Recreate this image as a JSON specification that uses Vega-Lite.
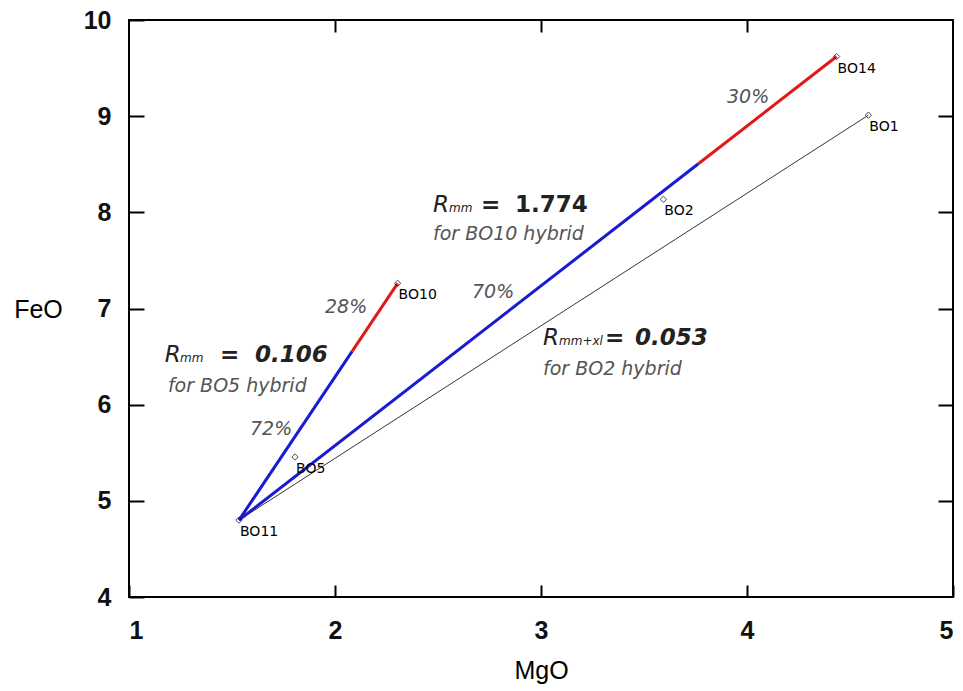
{
  "$schema": "https://vega.github.io/schema/vega-lite/v6.json",
  "width": 824,
  "height": 577,
  "autosize": "none",
  "padding": {"left": 129, "top": 20, "right": 10, "bottom": 94},
  "background": "white",
  "config": {
    "view": {"stroke": "black", "strokeWidth": 2},
    "axis": {"grid": false, "domain": false, "tickColor": "black", "tickWidth": 2,
      "labelFont": "Liberation Sans", "labelFontSize": 25, "labelFontWeight": "bold", "labelColor": "#111111",
      "titleFont": "Liberation Sans", "titleFontSize": 25, "titleFontWeight": "normal", "titleColor": "black"}
  },
  "resolve": {"axis": {"x": "independent", "y": "independent"}},
  "datasets": {
    "lines": [
      {"seg": "BO11-BO10a", "part": "mafic", "seq": 1, "MgO": 1.534, "FeO": 4.80},
      {"seg": "BO11-BO10a", "part": "mafic", "seq": 2, "MgO": 2.083, "FeO": 6.555},
      {"seg": "BO11-BO10b", "part": "felsic", "seq": 1, "MgO": 2.083, "FeO": 6.555},
      {"seg": "BO11-BO10b", "part": "felsic", "seq": 2, "MgO": 2.304, "FeO": 7.262},
      {"seg": "BO11-BO14a", "part": "mafic", "seq": 1, "MgO": 1.534, "FeO": 4.80},
      {"seg": "BO11-BO14a", "part": "mafic", "seq": 2, "MgO": 3.764, "FeO": 8.505},
      {"seg": "BO11-BO14b", "part": "felsic", "seq": 1, "MgO": 3.764, "FeO": 8.505},
      {"seg": "BO11-BO14b", "part": "felsic", "seq": 2, "MgO": 4.435, "FeO": 9.62}
    ],
    "tie": [
      {"MgO": 1.534, "FeO": 4.80},
      {"MgO": 4.589, "FeO": 9.01}
    ],
    "samples": [
      {"name": "BO11", "MgO": 1.534, "FeO": 4.80},
      {"name": "BO5", "MgO": 1.806, "FeO": 5.456},
      {"name": "BO10", "MgO": 2.304, "FeO": 7.262},
      {"name": "BO2", "MgO": 3.594, "FeO": 8.135},
      {"name": "BO14", "MgO": 4.435, "FeO": 9.62},
      {"name": "BO1", "MgO": 4.589, "FeO": 9.01}
    ]
  },
  "layer": [
    {
      "data": {"name": "tie"},
      "mark": {"type": "line", "color": "black", "strokeWidth": 0.8},
      "encoding": {
        "x": {"field": "MgO", "type": "quantitative", "scale": {"domain": [1, 5], "nice": false, "zero": false},
          "axis": {"values": [1, 2, 3, 4, 5], "format": "d", "offset": -12, "tickSize": 12, "labelPadding": 21, "title": "MgO", "titleY": 93, "titleBaseline": "alphabetic"}},
        "y": {"field": "FeO", "type": "quantitative", "scale": {"domain": [4, 10], "nice": false, "zero": false},
          "axis": {"values": [4, 5, 6, 7, 8, 9, 10], "format": "d", "offset": -15, "tickSize": 15, "labelPadding": 18, "title": "FeO", "titleAngle": 0, "titleX": -106, "titleY": 297, "titleAlign": "center", "titleBaseline": "alphabetic"}}
      }
    },
    {
      "data": {"name": "lines"},
      "mark": {"type": "line", "strokeWidth": 3},
      "encoding": {
        "x": {"field": "MgO", "type": "quantitative",
          "axis": {"orient": "top", "values": [2, 3, 4], "offset": -12, "tickSize": 12, "labels": false, "title": null}},
        "y": {"field": "FeO", "type": "quantitative",
          "axis": {"orient": "right", "values": [5, 6, 7, 8, 9], "offset": -15, "tickSize": 15, "labels": false, "title": null}},
        "detail": {"field": "seg"},
        "order": {"field": "seq"},
        "color": {"field": "part", "type": "nominal", "scale": {"domain": ["mafic", "felsic"], "range": ["#1a1ad2", "#e01818"]}, "legend": null}
      }
    },
    {
      "data": {"name": "samples"},
      "mark": {"type": "point", "shape": "diamond", "filled": false, "size": 40, "stroke": "black", "strokeWidth": 1},
      "encoding": {
        "x": {"field": "MgO", "type": "quantitative", "axis": null},
        "y": {"field": "FeO", "type": "quantitative", "axis": null}
      }
    },
    {
      "data": {"name": "samples"},
      "mark": {"type": "text", "align": "left", "baseline": "alphabetic", "dx": 1, "dy": 16, "font": "DejaVu Sans", "fontSize": 14, "color": "black"},
      "encoding": {
        "x": {"field": "MgO", "type": "quantitative", "axis": null},
        "y": {"field": "FeO", "type": "quantitative", "axis": null},
        "text": {"field": "name"}
      }
    },
    {
      "data": {"values": [
        {"t": "R", "MgO": 1.1733, "FeO": 6.447},
        {"t": "R", "MgO": 2.4757, "FeO": 8.007},
        {"t": "R", "MgO": 3.0097, "FeO": 6.621}
      ]},
      "mark": {"type": "text", "align": "left", "baseline": "alphabetic", "font": "DejaVu Sans", "fontStyle": "italic", "fontSize": 23, "color": "#222222"},
      "encoding": {"x": {"field": "MgO", "type": "quantitative", "axis": null}, "y": {"field": "FeO", "type": "quantitative", "axis": null}, "text": {"field": "t"}}
    },
    {
      "data": {"values": [
        {"t": "mm", "MgO": 1.2476, "FeO": 6.447},
        {"t": "mm", "MgO": 2.5534, "FeO": 8.007},
        {"t": "mm+xl", "MgO": 3.0874, "FeO": 6.621}
      ]},
      "mark": {"type": "text", "align": "left", "baseline": "alphabetic", "font": "DejaVu Sans", "fontStyle": "italic", "fontSize": 12, "color": "#222222"},
      "encoding": {"x": {"field": "MgO", "type": "quantitative", "axis": null}, "y": {"field": "FeO", "type": "quantitative", "axis": null}, "text": {"field": "t"}}
    },
    {
      "data": {"values": [
        {"t": "=", "MgO": 1.4417, "FeO": 6.447},
        {"t": "=", "MgO": 2.7087, "FeO": 8.007},
        {"t": "=", "MgO": 3.3107, "FeO": 6.621},
        {"t": "1.774", "MgO": 2.8738, "FeO": 8.007}
      ]},
      "mark": {"type": "text", "align": "left", "baseline": "alphabetic", "font": "DejaVu Sans", "fontWeight": "bold", "fontSize": 23, "color": "#222222"},
      "encoding": {"x": {"field": "MgO", "type": "quantitative", "axis": null}, "y": {"field": "FeO", "type": "quantitative", "axis": null}, "text": {"field": "t"}}
    },
    {
      "data": {"values": [
        {"t": "0.106", "MgO": 1.6117, "FeO": 6.447},
        {"t": "0.053", "MgO": 3.4563, "FeO": 6.621}
      ]},
      "mark": {"type": "text", "align": "left", "baseline": "alphabetic", "font": "DejaVu Sans", "fontWeight": "bold", "fontStyle": "italic", "fontSize": 23, "color": "#222222"},
      "encoding": {"x": {"field": "MgO", "type": "quantitative", "axis": null}, "y": {"field": "FeO", "type": "quantitative", "axis": null}, "text": {"field": "t"}}
    },
    {
      "data": {"values": [
        {"t": "for BO5 hybrid", "MgO": 1.189, "FeO": 6.135},
        {"t": "for BO10 hybrid", "MgO": 2.4757, "FeO": 7.712},
        {"t": "for BO2 hybrid", "MgO": 3.0097, "FeO": 6.309}
      ]},
      "mark": {"type": "text", "align": "left", "baseline": "alphabetic", "font": "DejaVu Sans", "fontStyle": "italic", "fontSize": 19, "color": "#555555"},
      "encoding": {"x": {"field": "MgO", "type": "quantitative", "axis": null}, "y": {"field": "FeO", "type": "quantitative", "axis": null}, "text": {"field": "t"}}
    },
    {
      "data": {"values": [
        {"t": "28%", "MgO": 1.9515, "FeO": 6.953},
        {"t": "72%", "MgO": 1.5874, "FeO": 5.685},
        {"t": "70%", "MgO": 2.665, "FeO": 7.109},
        {"t": "30%", "MgO": 3.903, "FeO": 9.137}
      ]},
      "mark": {"type": "text", "align": "left", "baseline": "alphabetic", "font": "DejaVu Sans", "fontStyle": "italic", "fontSize": 19, "color": "#555555"},
      "encoding": {"x": {"field": "MgO", "type": "quantitative", "axis": null}, "y": {"field": "FeO", "type": "quantitative", "axis": null}, "text": {"field": "t"}}
    }
  ]
}
